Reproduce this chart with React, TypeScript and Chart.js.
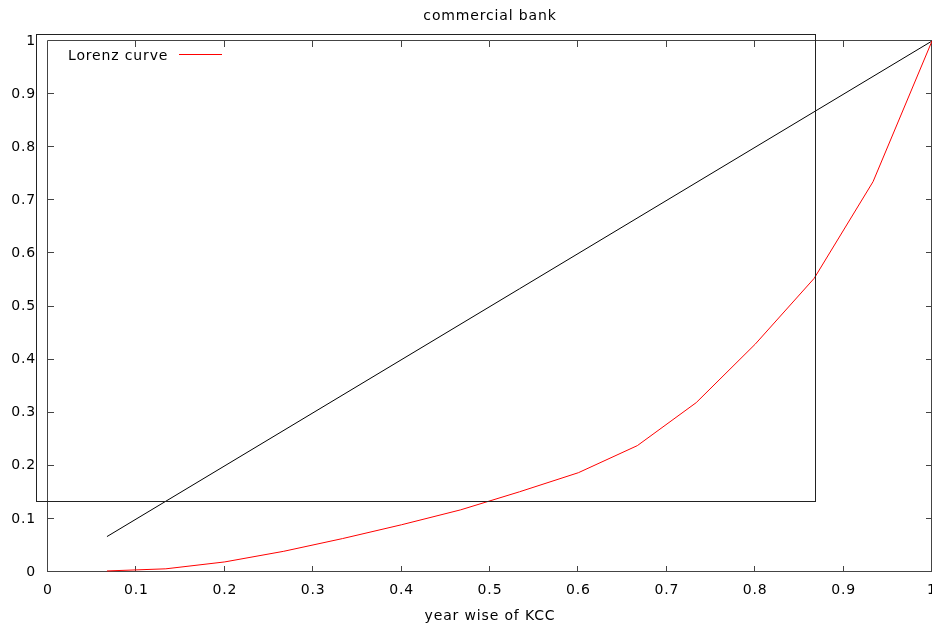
import { useEffect, useRef } from "react";
import { Chart, registerables } from "chart.js";

Chart.register(...registerables);

const chartTitle = "commercial bank";
const xAxisTitle = "year wise of KCC";
const seriesLabel = "Lorenz curve";

const shareX = [0.0667, 0.1333, 0.2, 0.2667, 0.3333, 0.4, 0.4667, 0.5333, 0.6, 0.6667, 0.7333, 0.8, 0.8667, 0.9333, 1.0];
const lorenzY = [0.002, 0.006, 0.019, 0.039, 0.063, 0.089, 0.117, 0.151, 0.187, 0.238, 0.319, 0.429, 0.553, 0.735, 1.0];

const equalityX = [0.0667, 1.0];
const equalityY = [0.0667, 1.0];

// frame rectangle drawn on the plot (data coordinates)
const boxX = [-0.0136, 0.8675];
const boxY = [0.134, 1.013];

const tickValues = [0, 0.1, 0.2, 0.3, 0.4, 0.5, 0.6, 0.7, 0.8, 0.9, 1];

const FAMILY = '"DejaVu Sans", Verdana, sans-serif';
const FONT = `14px ${FAMILY}`;
const SPACING = "0.85px";

const decorPlugin = {
  id: "decor",
  beforeDraw(chart: any) {
    try {
      chart.ctx.letterSpacing = SPACING;
    } catch (e) {}
  },
  beforeDatasetsDraw(chart: any) {
    const { ctx, chartArea: a, scales } = chart;
    const xs = scales.x;
    const ys = scales.y;
    ctx.save();
    ctx.strokeStyle = "#444";
    ctx.lineWidth = 1;
    ctx.beginPath();
    ctx.rect(Math.round(a.left) - 0.5, Math.round(a.top) - 0.5, Math.round(a.right - a.left), Math.round(a.bottom - a.top));
    ctx.stroke();
    const len = 6;
    ctx.beginPath();
    for (const v of tickValues) {
      const px = Math.round(xs.getPixelForValue(v)) - 0.5;
      ctx.moveTo(px, a.bottom);
      ctx.lineTo(px, a.bottom - len);
      ctx.moveTo(px, a.top);
      ctx.lineTo(px, a.top + len);
      const py = Math.round(ys.getPixelForValue(v)) - 0.5;
      ctx.moveTo(a.left, py);
      ctx.lineTo(a.left + len, py);
      ctx.moveTo(a.right, py);
      ctx.lineTo(a.right - len, py);
    }
    ctx.stroke();
    ctx.restore();
  },
  afterDatasetsDraw(chart: any) {
    const { ctx, chartArea: a, scales } = chart;
    const xs = scales.x;
    const ys = scales.y;
    ctx.save();
    // frame rectangle
    const x0 = Math.round(xs.getPixelForValue(boxX[0])) + 0.5;
    const x1 = Math.round(xs.getPixelForValue(boxX[1])) + 0.5;
    const y0 = Math.round(ys.getPixelForValue(boxY[1])) + 0.5;
    const y1 = Math.round(ys.getPixelForValue(boxY[0])) + 0.5;
    ctx.strokeStyle = "#222";
    ctx.lineWidth = 1;
    ctx.strokeRect(x0, y0, x1 - x0, y1 - y0);

    // legend
    ctx.font = FONT;
    ctx.letterSpacing = SPACING;
    ctx.fillStyle = "#000";
    ctx.textAlign = "left";
    ctx.textBaseline = "middle";
    ctx.fillText(seriesLabel, a.left + 20, a.top + 15);
    ctx.strokeStyle = "#ff0000";
    ctx.beginPath();
    ctx.moveTo(a.left + 131, a.top + 13.5);
    ctx.lineTo(a.left + 174, a.top + 13.5);
    ctx.stroke();

    // titles
    const cx = (a.left + a.right) / 2;
    ctx.textAlign = "center";
    ctx.fillText(chartTitle, cx, 16);
    ctx.fillText(xAxisTitle, cx, a.bottom + 44);
    ctx.restore();
  },
};

export default function App() {
  const ref = useRef<HTMLCanvasElement>(null);

  useEffect(() => {
    if (!ref.current) return;
    const chart = new Chart(ref.current, {
      type: "line",
      data: {
        datasets: [
          {
            label: seriesLabel,
            data: shareX.map((x, i) => ({ x, y: lorenzY[i] })),
            borderColor: "#ff0000",
            borderWidth: 1,
            pointRadius: 0,
            tension: 0,
            fill: false,
          },
          {
            label: "equality",
            data: equalityX.map((x, i) => ({ x, y: equalityY[i] })),
            borderColor: "#000000",
            borderWidth: 1,
            pointRadius: 0,
            tension: 0,
            fill: false,
          },
        ],
      },
      options: {
        responsive: false,
        animation: false,
        layout: { padding: { top: 41, left: 0, right: 0, bottom: 0 } },
        plugins: {
          legend: { display: false },
          title: { display: false },
          tooltip: { enabled: false },
        },
        scales: {
          x: {
            type: "linear",
            min: 0,
            max: 1,
            afterBuildTicks(s: any) {
              s.ticks = tickValues.map((v) => ({ value: v }));
            },
            ticks: {
              font: { family: FAMILY, size: 14 },
              color: "#000",
              padding: 10,
              maxRotation: 0,
              autoSkip: false,
              callback: (v: any) => String(Number(Number(v).toFixed(1))),
            },
            grid: { display: false, drawTicks: false },
            border: { display: false },
            afterFit(s: any) {
              s.height = 52;
              s.paddingLeft = 0;
              s.paddingRight = 0;
            },
          },
          y: {
            type: "linear",
            min: 0,
            max: 1,
            afterBuildTicks(s: any) {
              s.ticks = tickValues.map((v) => ({ value: v }));
            },
            ticks: {
              font: { family: FAMILY, size: 14 },
              color: "#000",
              padding: 12,
              autoSkip: false,
              callback: (v: any) => String(Number(Number(v).toFixed(1))),
            },
            grid: { display: false, drawTicks: false },
            border: { display: false },
            afterFit(s: any) {
              s.width = 48;
              s.paddingTop = 0;
              s.paddingBottom = 0;
            },
          },
        },
      },
      plugins: [decorPlugin],
    });
    return () => chart.destroy();
  }, []);

  return (
    <canvas
      ref={ref}
      width={932}
      height={624}
      style={{ position: "fixed", left: 0, top: 0, width: 932, height: 624, background: "#fff" }}
    />
  );
}
